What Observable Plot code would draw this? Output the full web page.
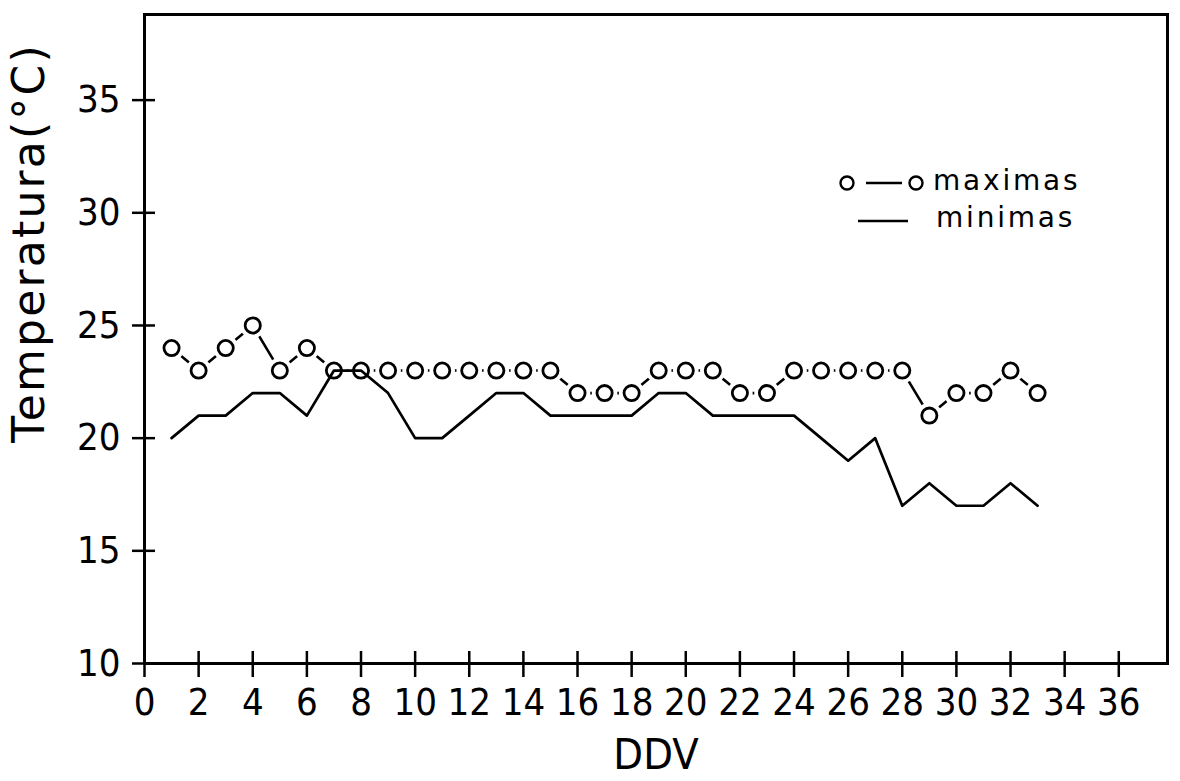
<!DOCTYPE html>
<html>
<head>
<meta charset="utf-8">
<script src="https://cdn.jsdelivr.net/npm/d3@7"></script>
<script src="https://cdn.jsdelivr.net/npm/@observablehq/plot@0.6"></script>
<style>
  html, body { margin: 0; padding: 0; background: #fff; }
  #wrap { position: relative; width: 1180px; height: 781px; }
  #legend { position: absolute; left: 0; top: 0; pointer-events: none; }
</style>
</head>
<body>
<div id="wrap"></div>
<script>
// ---- data ----
const days = [1,2,3,4,5,6,7,8,9,10,11,12,13,14,15,16,17,18,19,20,21,22,23,24,25,26,27,28,29,30,31,32,33];
const maximas = [24,23,24,25,23,24,23,23,23,23,23,23,23,23,23,22,22,22,23,23,23,22,22,23,23,23,23,23,21,22,22,23,22];
const minimas = [20,21,21,22,22,21,23,23,22,20,20,21,22,22,21,21,21,21,22,22,21,21,21,21,20,19,20,17,18,17,17,18,17];
const xTicks = [0,2,4,6,8,10,12,14,16,18,20,22,24,26,28,30,32,34,36];
const yTicks = [10,15,20,25,30,35];
const seriesNames = ["maximas", "minimas"];
const xLabel = "DDV";
const yLabel = "Temperatura(°C)";

const rows = days.map((d, i) => ({day: d, max: maximas[i], min: minimas[i]}));
const narrow = "'Liberation Sans Narrow', 'DejaVu Sans Condensed', 'Liberation Sans', sans-serif";

const chart = Plot.plot({
  width: 1180,
  height: 781,
  marginLeft: 144,
  marginRight: 13,
  marginTop: 14,
  marginBottom: 118,
  x: {domain: [0, 37.8]},
  y: {domain: [10, 38.8]},
  style: {fontFamily: narrow, color: "#000", background: "#fff"},
  marks: [
    // y axis: outward ticks + labels, and inward ticks
    Plot.axisY({ticks: yTicks, tickSize: 12, tickPadding: 12, fontSize: 38, fontFamily: narrow, strokeWidth: 2.5, label: null}),
    Plot.axisY({ticks: yTicks, tickSize: 11, dx: 11, tickFormat: () => "", strokeWidth: 2.5, label: null}),
    // x axis: outward ticks + labels, and inward ticks
    Plot.axisX({ticks: xTicks, tickSize: 14, tickPadding: 11, fontSize: 38, fontFamily: narrow, strokeWidth: 2.5, label: null}),
    Plot.axisX({ticks: xTicks, tickSize: 12, dy: -12, tickFormat: () => "", strokeWidth: 2.5, label: null}),
    Plot.frame({stroke: "#000", strokeWidth: 3}),
    // maximas: connecting line, white halo, open circles
    Plot.line(rows, {x: "day", y: "max", stroke: "#000", strokeWidth: 2.6}),
    Plot.dot(rows, {x: "day", y: "max", r: 12.8, fill: "#fff", stroke: null}),
    Plot.dot(rows, {x: "day", y: "max", r: 7.6, fill: "#fff", stroke: "#000", strokeWidth: 2.8}),
    // minimas
    Plot.line(rows, {x: "day", y: "min", stroke: "#000", strokeWidth: 2.7}),
    // axis titles
    Plot.text([xLabel], {text: d => d, frameAnchor: "bottom", dy: 92, lineAnchor: "middle", textAnchor: "middle",
      fontSize: 43, fontFamily: narrow, fill: "#000"}),
    Plot.text([yLabel], {text: d => d, frameAnchor: "left", rotate: -90, dx: -115, dy: -96,
      textAnchor: "middle", lineAnchor: "middle",
      fontSize: 44, fontFamily: "'DejaVu Sans', sans-serif", fill: "#000"})
  ]
});

d3.select(chart).selectAll("text")
  .filter(function() { return this.textContent === yLabel; })
  .style("letter-spacing", "2.2px");

const wrap = document.getElementById("wrap");
wrap.appendChild(chart);

// ---- legend overlay ----
const leg = d3.select(wrap).append("svg")
  .attr("id", "legend").attr("width", 1180).attr("height", 781);
const legFont = "'DejaVu Sans', sans-serif";
// maximas entry
leg.append("line").attr("x1", 866).attr("x2", 902).attr("y1", 183).attr("y2", 183)
  .attr("stroke", "#000").attr("stroke-width", 2.5);
leg.append("circle").attr("cx", 847).attr("cy", 183).attr("r", 6.5)
  .attr("fill", "#fff").attr("stroke", "#000").attr("stroke-width", 2.4);
leg.append("circle").attr("cx", 916).attr("cy", 183).attr("r", 6.5)
  .attr("fill", "#fff").attr("stroke", "#000").attr("stroke-width", 2.4);
leg.append("text").attr("x", 933).attr("y", 190).text(seriesNames[0])
  .attr("font-family", legFont).attr("font-size", 28).style("letter-spacing", "2.8px");
// minimas entry
leg.append("line").attr("x1", 858).attr("x2", 908).attr("y1", 221).attr("y2", 221)
  .attr("stroke", "#000").attr("stroke-width", 2.5);
leg.append("text").attr("x", 936).attr("y", 227).text(seriesNames[1])
  .attr("font-family", legFont).attr("font-size", 28).style("letter-spacing", "2.8px");
</script>
</body>
</html>
